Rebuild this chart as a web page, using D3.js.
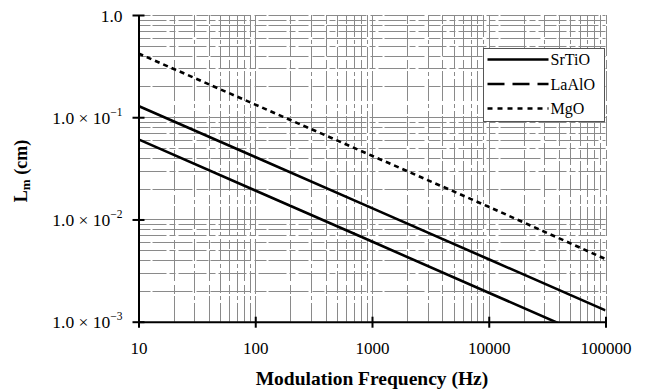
<!DOCTYPE html>
<html>
<head>
<meta charset="utf-8">
<script src="https://cdn.jsdelivr.net/npm/d3@7"></script>
<style>
  body { margin: 0; background: #fff; }
  svg { display: block; }
  svg text { font-family: "Liberation Serif", "Times New Roman", serif; }
</style>
</head>
<body>
<div id="chart"></div>
<script>
/*******************************************************
 *                       Data                          *
 *******************************************************/

const freqs = [10, 100, 1000, 10000, 100000];
const srtio = [0.0608, 0.0192, 0.00608, 0.00192, 0.000608];
const laalo = [0.129, 0.0408, 0.0129, 0.00408, 0.00129];
const mgo = [0.42, 0.133, 0.042, 0.0133, 0.0041];

const seriesNames = ["SrTiO", "LaAlO", "MgO"];
const xTicks = [10, 100, 1000, 10000, 100000];
const xTickLabels = ["10", "100", "1000", "10000", "100000"];
const yTicks = [0.001, 0.01, 0.1, 1];
const yTickLabels = [
  ["1.0 \u00d7 10", "\u22123"],
  ["1.0 \u00d7 10", "\u22122"],
  ["1.0 \u00d7 10", "\u22121"],
  ["1.0", ""],
];

/*******************************************************
 *                      Layout                         *
 *******************************************************/

const W = 645,
  H = 391;
const pLeft = 138.5,
  pRight = 605.5,
  pTop = 15,
  pBottom = 321.7;
const serif = "Liberation Serif";

const x = d3.scaleLog().domain([10, 100000]).range([pLeft, pRight]);
const y = d3.scaleLog().domain([0.001, 1]).range([pBottom, pTop]);

const svg = d3
  .select("#chart")
  .append("svg")
  .attr("width", W)
  .attr("height", H);

svg
  .append("defs")
  .append("clipPath")
  .attr("id", "plot")
  .append("rect")
  .attr("x", pLeft)
  .attr("y", pTop)
  .attr("width", pRight - pLeft)
  .attr("height", pBottom - pTop);

// grid (minor + major, broken like the scan)
const minorX = [];
for (let d = 10; d < 100000; d *= 10)
  for (let k = 1; k <= 10; k++) if (d * k > 10) minorX.push(d * k);
const minorY = [];
for (let d = 0.001; d < 0.999; d *= 10)
  for (let k = 1; k <= 10; k++) if (d * k > 0.0011) minorY.push(d * k);

const grid = svg.append("g").attr("stroke", "#8a8a8a").attr("stroke-width", 1);
grid
  .selectAll(".vx")
  .data(minorX)
  .enter()
  .append("line")
  .attr("x1", (d) => Math.round(x(d)) + 0.5)
  .attr("x2", (d) => Math.round(x(d)) + 0.5)
  .attr("y1", pTop)
  .attr("y2", pBottom)
  .attr("stroke-dasharray", (d, i) => (i % 2 ? "22,3,4,3" : "9,2,30,4"));
grid
  .selectAll(".hy")
  .data(minorY)
  .enter()
  .append("line")
  .attr("y1", (d) => Math.round(y(d)) + 0.5)
  .attr("y2", (d) => Math.round(y(d)) + 0.5)
  .attr("x1", pLeft)
  .attr("x2", pRight)
  .attr("stroke-dasharray", (d, i) => (i % 2 ? "28,3,6,3" : "12,2,40,4"));

/*******************************************************
 *                      Lines                          *
 *******************************************************/

const line = d3
  .line()
  .x((d) => x(d[0]))
  .y((d) => y(d[1]));

const series = [
  { values: srtio, dash: null },
  { values: laalo, dash: null },
  { values: mgo, dash: "5,4" },
];

svg
  .append("g")
  .attr("clip-path", "url(#plot)")
  .selectAll("path")
  .data(series)
  .enter()
  .append("path")
  .attr("d", (s) => line(freqs.map((f, i) => [f, s.values[i]])))
  .attr("fill", "none")
  .attr("stroke", "#000")
  .attr("stroke-width", 2.6)
  .attr("stroke-dasharray", (s) => s.dash);

/*******************************************************
 *                       Axes                          *
 *******************************************************/

const xAxis = svg
  .append("g")
  .attr("transform", "translate(0," + pBottom + ")")
  .call(d3.axisBottom(x).tickValues(xTicks).tickSize(0).tickFormat(""));
xAxis.attr("font-family", serif);
xAxis.select(".domain").attr("stroke", "#000").attr("stroke-width", 2);
xAxis
  .selectAll(".tick line")
  .attr("y1", -5)
  .attr("y2", 6)
  .attr("stroke", "#000")
  .attr("stroke-width", 2);
xAxis
  .selectAll(".tick text")
  .text((d, i) => xTickLabels[i])
  .attr("y", 32)
  .attr("dy", null)
  .attr("font-size", 17)
  .attr("font-family", serif)
  .attr("fill", "#000");

const yAxis = svg
  .append("g")
  .attr("transform", "translate(" + pLeft + ",0)")
  .call(d3.axisLeft(y).tickValues(yTicks).tickSize(0).tickFormat(""));
yAxis.attr("font-family", serif);
yAxis.select(".domain").attr("stroke", "#000").attr("stroke-width", 2);
yAxis
  .selectAll(".tick line")
  .attr("x1", -6)
  .attr("x2", 6)
  .attr("stroke", "#000")
  .attr("stroke-width", 2);
yAxis.selectAll(".tick text").remove();
yAxis
  .selectAll(".tick")
  .append("text")
  .attr("x", -16)
  .attr("y", 6)
  .attr("text-anchor", "end")
  .attr("font-size", 17.5)
  .attr("font-family", serif)
  .attr("fill", "#000")
  .each(function (d, i) {
    const t = d3.select(this);
    t.append("tspan").text(yTickLabels[i][0]);
    if (yTickLabels[i][1])
      t.append("tspan")
        .text(yTickLabels[i][1])
        .attr("font-size", 11.5)
        .attr("dy", -8);
  });

// axis titles
svg
  .append("text")
  .attr("x", (pLeft + pRight) / 2)
  .attr("y", 385)
  .attr("text-anchor", "middle")
  .attr("font-size", 19.5)
  .attr("font-weight", "bold")
  .attr("font-family", serif)
  .text("Modulation Frequency (Hz)");

const yTitle = svg
  .append("text")
  .attr("transform", "translate(27,171) rotate(-90)")
  .attr("text-anchor", "middle")
  .attr("font-size", 18)
  .attr("font-weight", "bold")
  .attr("font-family", serif);
yTitle.append("tspan").text("L");
yTitle.append("tspan").text("m").attr("font-size", 13).attr("dy", 3);
yTitle.append("tspan").text(" (cm)").attr("dy", -3);

/*******************************************************
 *                      Legend                         *
 *******************************************************/

const legend = svg.append("g").attr("transform", "translate(483.5,48.5)");
legend
  .append("rect")
  .attr("width", 121)
  .attr("height", 73)
  .attr("fill", "#fff")
  .attr("stroke", "#555")
  .attr("stroke-width", 1);

const legendDash = [null, "17,8", "5,5"];
const legendItems = legend
  .selectAll(".item")
  .data(seriesNames)
  .enter()
  .append("g")
  .attr("transform", (d, i) => "translate(0," + (11 + i * 24.5) + ")");
legendItems
  .append("line")
  .attr("x1", 4)
  .attr("x2", 65)
  .attr("stroke", "#000")
  .attr("stroke-width", 2.4)
  .attr("stroke-dasharray", (d, i) => legendDash[i]);
legendItems
  .append("text")
  .attr("x", 67)
  .attr("y", 5.5)
  .attr("font-size", 16)
  .attr("font-family", serif)
  .text((d) => d);
</script>
</body>
</html>
